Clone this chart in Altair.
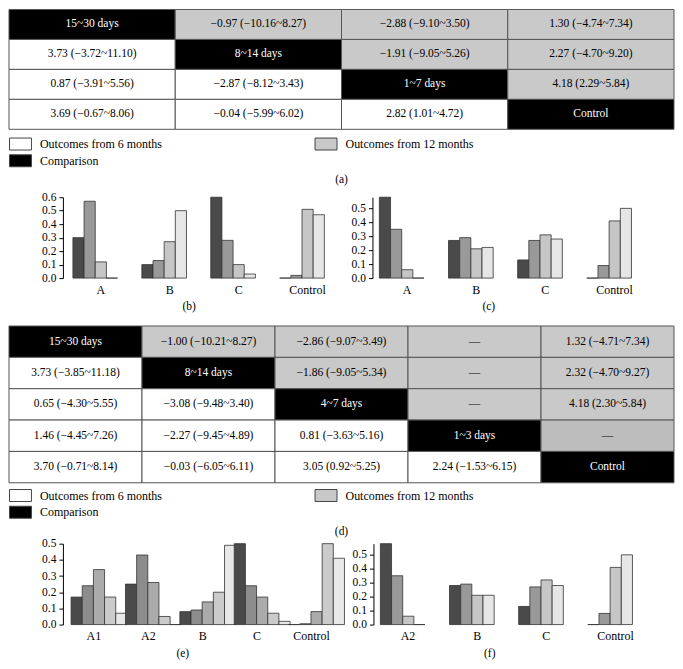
import altair as alt
import pandas as pd

FONT = "Liberation Serif"
K6, K12, KC = "Outcomes from 6 months", "Outcomes from 12 months", "Comparison"
KD = "missing"   # the darker grey "—" cell of table (d)

# ---------- table (a) ----------
a_text = [
    ["15~30 days", "−0.97 (−10.16~8.27)", "−2.88 (−9.10~3.50)", "1.30 (−4.74~7.34)"],
    ["3.73 (−3.72~11.10)", "8~14 days", "−1.91 (−9.05~5.26)", "2.27 (−4.70~9.20)"],
    ["0.87 (−3.91~5.56)", "−2.87 (−8.12~3.43)", "1~7 days", "4.18 (2.29~5.84)"],
    ["3.69 (−0.67~8.06)", "−0.04 (−5.99~6.02)", "2.82 (1.01~4.72)", "Control"],
]
a_kind = [
    [KC, K12, K12, K12],
    [K6, KC, K12, K12],
    [K6, K6, KC, K12],
    [K6, K6, K6, KC],
]

# ---------- table (d) ----------
d_text = [
    ["15~30 days", "−1.00 (−10.21~8.27)", "−2.86 (−9.07~3.49)", "—", "1.32 (−4.71~7.34)"],
    ["3.73 (−3.85~11.18)", "8~14 days", "−1.86 (−9.05~5.34)", "—", "2.32 (−4.70~9.27)"],
    ["0.65 (−4.30~5.55)", "−3.08 (−9.48~3.40)", "4~7 days", "—", "4.18 (2.30~5.84)"],
    ["1.46 (−4.45~7.26)", "−2.27 (−9.45~4.89)", "0.81 (−3.63~5.16)", "1~3 days", "—"],
    ["3.70 (−0.71~8.14)", "−0.03 (−6.05~6.11)", "3.05 (0.92~5.25)", "2.24 (−1.53~6.15)", "Control"],
]
d_kind = [
    [KC, K12, K12, K12, K12],
    [K6, KC, K12, K12, K12],
    [K6, K6, KC, K12, K12],
    [K6, K6, K6, KC, KD],
    [K6, K6, K6, K6, KC],
]

# ---------- bar charts ----------
b_groups = ["A", "B", "C", "Control"]
b_values = [[0.30, 0.57, 0.12, 0.0], [0.10, 0.13, 0.27, 0.50],
            [0.60, 0.28, 0.10, 0.03], [0.0, 0.02, 0.51, 0.47]]
c_groups = ["A", "B", "C", "Control"]
c_values = [[0.58, 0.35, 0.06, 0.0], [0.27, 0.29, 0.21, 0.22],
            [0.13, 0.27, 0.31, 0.28], [0.0, 0.09, 0.41, 0.50]]
e_groups = ["A1", "A2", "B", "C", "Control"]
e_values = [[0.17, 0.24, 0.34, 0.17, 0.07], [0.25, 0.43, 0.26, 0.05, 0.0],
            [0.08, 0.09, 0.14, 0.20, 0.49], [0.50, 0.24, 0.17, 0.07, 0.02],
            [0.0, 0.005, 0.08, 0.50, 0.41]]
f_groups = ["A2", "B", "C", "Control"]
f_values = [[0.58, 0.35, 0.06, 0.0], [0.28, 0.29, 0.21, 0.21],
            [0.13, 0.27, 0.32, 0.28], [0.0, 0.08, 0.41, 0.50]]

grays4 = ["#4a4a4a", "#999999", "#c6c6c6", "#e6e6e6"]
grays5 = ["#4a4a4a", "#8c8c8c", "#ababab", "#cbcbcb", "#e8e8e8"]

LEFT = 54      # left extent shared by every panel
TABLE_W = 666


def caption(text, offset=6, dx=0):
    return alt.Title(text, orient="bottom", anchor="middle", font=FONT, fontSize=11.5,
                     fontWeight="normal", color="black", offset=offset, dx=dx)


def table(texts, kinds, height, legend_y, cap):
    rows = []
    for r, (tr, kr) in enumerate(zip(texts, kinds)):
        for c, (t, k) in enumerate(zip(tr, kr)):
            rows.append({"r": r, "c": c, "t": t, "k": k})
    df = pd.DataFrame(rows)
    base = alt.Chart(df).encode(
        x=alt.X("c:O", axis=None,
                scale=alt.Scale(range=[-LEFT, TABLE_W - LEFT], paddingInner=0, paddingOuter=0)),
        y=alt.Y("r:O", axis=None, scale=alt.Scale(paddingInner=0, paddingOuter=0)),
    )
    rect = base.mark_rect(stroke="#555555", strokeWidth=1).encode(
        fill=alt.Fill(
            "k:N",
            scale=alt.Scale(domain=[K6, K12, KC, KD],
                            range=["#ffffff", "#c9c9c9", "#000000", "#bdbdbd"]),
            legend=alt.Legend(
                title=None, orient="none", legendX=5 - LEFT, legendY=legend_y,
                values=[K6, K12, KC],
                direction="horizontal", columns=2, columnPadding=150, rowPadding=0,
                symbolType="M-1.83,-1H1.83V1H-1.83Z", symbolSize=144,
                symbolStrokeColor="#444444", symbolStrokeWidth=1,
                labelFont=FONT, labelFontSize=12, labelColor="black", labelOffset=13,
            ),
        )
    )
    text = base.mark_text(font=FONT, fontSize=11.5).encode(
        text="t:N",
        color=alt.condition(alt.datum.k == KC, alt.value("white"), alt.value("black")),
    )
    return alt.layer(rect, text, title=caption(cap, 5, -LEFT / 2)).properties(
        width=TABLE_W - LEFT, height=height)


def bars(groups, values, ymax, width, height, minext, pi, po, colors, cap, dx):
    rows = []
    for g, vals in zip(groups, values):
        for i, v in enumerate(vals):
            rows.append({"g": g, "k": i, "v": v})
    df = pd.DataFrame(rows)
    ticks = [0.0, 0.1, 0.2, 0.3, 0.4, 0.5, 0.6]
    ticks = [t for t in ticks if t <= ymax + 1e-9]
    return alt.Chart(df, title=caption(cap, 6, dx)).mark_bar(stroke="#333333", strokeWidth=0.8).encode(
        x=alt.X("g:N", sort=groups, scale=alt.Scale(paddingInner=pi, paddingOuter=po),
                axis=alt.Axis(title=None, domain=False, ticks=False, labelAngle=0, labelFont=FONT,
                              labelFontSize=12, labelColor="black", labelPadding=6)),
        xOffset=alt.XOffset("k:O", scale=alt.Scale(paddingInner=0, paddingOuter=0)),
        y=alt.Y("v:Q", scale=alt.Scale(domain=[0, ymax], nice=False),
                axis=alt.Axis(title=None, values=ticks, format=".1f", grid=False, domainColor="black",
                              tickColor="black", tickSize=4, labelFont=FONT, labelFontSize=11.5,
                              labelColor="black", minExtent=minext, labelPadding=3)),
        fill=alt.Fill("k:O", scale=alt.Scale(range=colors), legend=None),
    ).properties(width=width, height=height)


ta = table(a_text, a_kind, 120, 128, "(a)")
cb = bars(b_groups, b_values, 0.6, 283, 81, LEFT, 0.19, 0.145, grays4, "(b)", -15)
cc = bars(c_groups, c_values, 0.58, 277, 81, 27, 0.2, 0.1, grays4, "(c)", -22)
td = table(d_text, d_kind, 157, 163, "(d)")
ce = bars(e_groups, e_values, 0.5, 280, 81, LEFT, 0.16, 0.15, grays5, "(e)", -20)
cf = bars(f_groups, f_values, 0.58, 277, 81, 28, 0.2, 0.1, grays4, "(f)", -22)

row1 = alt.hconcat(cb, cc, spacing=0).resolve_scale(fill="independent")
row2 = alt.hconcat(ce, cf, spacing=0).resolve_scale(fill="independent")

top = alt.vconcat(ta, row1, spacing=5).resolve_scale(fill="independent")
bottom = alt.vconcat(td, row2, spacing=0).resolve_scale(fill="independent")

chart = alt.vconcat(top, bottom, spacing=12).resolve_scale(
    fill="independent").properties(padding=0).configure_view(stroke=None)

chart.save("out.html", embed_options={"renderer": "svg", "actions": False})
